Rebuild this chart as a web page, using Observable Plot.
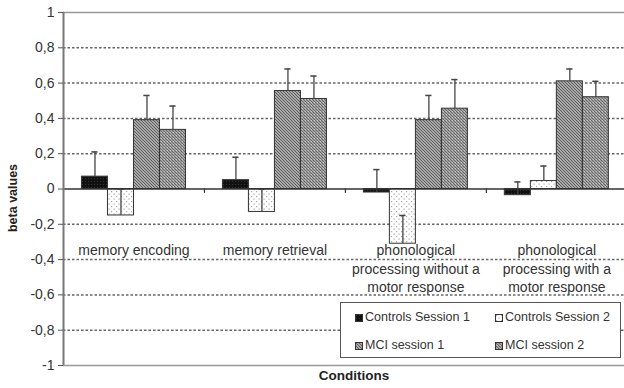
<!DOCTYPE html>
<html><head><meta charset="utf-8">
<script src="https://cdn.jsdelivr.net/npm/d3@7"></script>
<script src="https://cdn.jsdelivr.net/npm/@observablehq/plot@0.6"></script>
<style>
html,body{margin:0;padding:0;background:#fff;overflow:hidden;}
#wrap{position:relative;width:624px;height:388px;font-family:"Liberation Sans",Arial,sans-serif;color:#333;}
#legend{position:absolute;left:340px;top:302px;width:279px;height:54px;border:1px solid #555;background:#fff;}
.item{position:absolute;font-size:12.5px;line-height:14px;white-space:nowrap;color:#333;}
.item svg{vertical-align:-1px;margin-right:2px;}
</style>
</head><body>
<svg width="0" height="0" style="position:absolute">
<defs>
<pattern id="pBlack" width="3" height="3" patternUnits="userSpaceOnUse">
<rect width="3" height="3" fill="#111"/><rect x="1" y="1" width="1" height="1" fill="#333"/>
</pattern>
<pattern id="pDots" width="5" height="5" patternUnits="userSpaceOnUse">
<rect width="5" height="5" fill="#fff"/><rect x="1" y="1" width="1.2" height="1.2" fill="#aaa"/><rect x="3.5" y="3.5" width="1.2" height="1.2" fill="#aaa"/>
</pattern>
<pattern id="pHatch1" width="3" height="3" patternUnits="userSpaceOnUse">
<rect width="3" height="3" fill="#a8a8a8"/><path d="M0,0L3,3M-1,2L1,4M2,-1L4,1" stroke="#555" stroke-width="0.9"/>
</pattern>
<pattern id="pHatch2" width="3" height="3" patternUnits="userSpaceOnUse">
<rect width="3" height="3" fill="#a0a0a0"/><path d="M0,0L3,3M-1,2L1,4M2,-1L4,1" stroke="#5a5a5a" stroke-width="0.8"/><rect x="2" y="0" width="0.8" height="0.8" fill="#ddd"/>
</pattern>
</defs>
</svg>
<div id="wrap"></div>
<script>
const categories = [
  "memory encoding",
  "memory retrieval",
  "phonological\nprocessing without a\nmotor response",
  "phonological\nprocessing with a\nmotor response"
];
const seriesNames = ["Controls Session 1", "Controls Session 2", "MCI session 1", "MCI session 2"];
const controlsSession1 = [0.07, 0.05, -0.02, -0.035];
const controlsSession1Err = [0.14, 0.13, 0.13, 0.075];
const controlsSession2 = [-0.15, -0.13, -0.31, 0.045];
const controlsSession2Err = [0.15, 0.13, 0.16, 0.085];
const mciSession1 = [0.39, 0.555, 0.39, 0.61];
const mciSession1Err = [0.14, 0.125, 0.14, 0.07];
const mciSession2 = [0.335, 0.51, 0.455, 0.52];
const mciSession2Err = [0.135, 0.13, 0.165, 0.09];
const yTicks = [1, 0.8, 0.6, 0.4, 0.2, 0, -0.2, -0.4, -0.6, -0.8, -1];
const gridTicks = [0.8, 0.6, 0.4, 0.2, -0.2, -0.4, -0.6, -0.8];
const fills = ["url(#pBlack)", "url(#pDots)", "url(#pHatch1)", "url(#pHatch2)"];

const values = [controlsSession1, controlsSession2, mciSession1, mciSession2];
const errors = [controlsSession1Err, controlsSession2Err, mciSession1Err, mciSession2Err];

const group = 0.738, bw = group / 4, cap = 0.022;
const rows = [];
categories.forEach((c, i) => {
  seriesNames.forEach((s, j) => {
    const x1 = i - group / 2 + j * bw;
    rows.push({cat: c, series: s, value: values[j][i], err: errors[j][i],
      x1, x2: x1 + bw, xc: x1 + bw / 2, top: values[j][i] + errors[j][i]});
  });
});
const boundaries = categories.slice(1).map((c, i) => i + 0.5);
const fmt = d => String(+d.toFixed(1)).replace(".", ",");

const chart = Plot.plot({
  width: 624, height: 388,
  marginLeft: 63, marginRight: 0, marginTop: 12, marginBottom: 23,
  style: {fontFamily: "Liberation Sans, Arial, sans-serif", background: "#fff", overflow: "visible"},
  x: {type: "linear", domain: [-0.5, 3.48], axis: null},
  y: {domain: [-1, 1], axis: null},
  color: {type: "ordinal", domain: seriesNames, range: fills},
  marks: [
    Plot.ruleY(gridTicks, {stroke: "#666", strokeWidth: 1.5, strokeDasharray: "2.5,2"}),
    Plot.ruleY([1, -1], {stroke: "#999", strokeWidth: 1.5}),
    Plot.text(categories, {x: (d, i) => i, y: -0.3, text: d => d, lineAnchor: "top", fontSize: 14, lineHeight: 1.32, fill: "#333"}),
    Plot.rectY(rows, {x1: "x1", x2: "x2", y: "value", fill: "series", stroke: "#333", strokeWidth: 1}),
    Plot.ruleX(rows, {x: "xc", y1: "value", y2: "top", stroke: "#444", strokeWidth: 1.3}),
    Plot.ruleY(rows, {y: "top", x1: d => d.xc - cap, x2: d => d.xc + cap, stroke: "#444", strokeWidth: 1.5}),
    Plot.ruleY([0], {stroke: "#333", strokeWidth: 1.3}),
    Plot.ruleX(boundaries, {y1: 0, y2: -0.025, stroke: "#333", strokeWidth: 1.2}),
    Plot.ruleX([-0.5], {stroke: "#777", strokeWidth: 2}),
    Plot.axisY(yTicks, {tickSize: 5, tickPadding: 4, tickFormat: fmt, fontSize: 14, fill: "#333", stroke: "#555", label: null}),
    Plot.text(["beta values"], {frameAnchor: "left", textAnchor: "middle", rotate: -90, dx: -51, dy: 9, fontSize: 12.5, fontWeight: "bold", fill: "#222"}),
    Plot.text(["Conditions"], {frameAnchor: "bottom", dx: 10, dy: 14, fontSize: 13.5, fontWeight: "bold", fill: "#222"})
  ]
});
const wrap = document.getElementById("wrap");
wrap.appendChild(chart);

const legend = document.createElement("div");
legend.id = "legend";
const pos = [[14, 7], [154, 7], [14, 35], [154, 35]];
seriesNames.forEach((s, j) => {
  const it = document.createElement("div");
  it.className = "item";
  it.style.left = pos[j][0] + "px";
  it.style.top = pos[j][1] + "px";
  it.innerHTML = `<svg width="8" height="8"><rect x="0.5" y="0.5" width="7" height="7" fill="${fills[j]}" stroke="#333"/></svg>`;
  it.appendChild(document.createTextNode(s));
  legend.appendChild(it);
});
wrap.appendChild(legend);
</script>
</body></html>
